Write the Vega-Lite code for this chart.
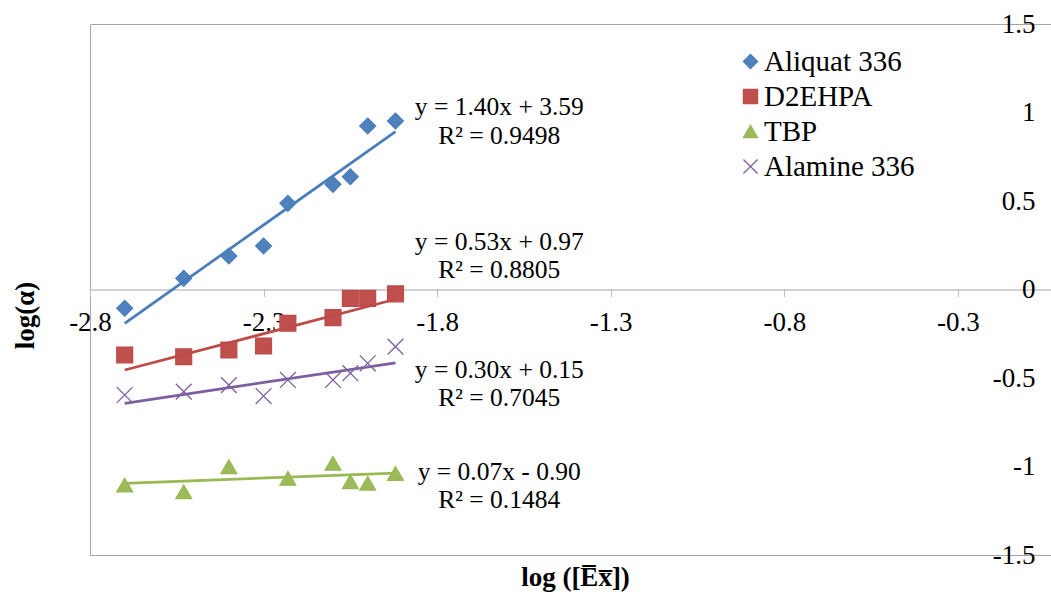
{
  "$schema": "https://vega.github.io/schema/vega-lite/v6.json",
  "width": 972,
  "height": 531,
  "autosize": "none",
  "padding": {"left": 90, "top": 24, "right": -11, "bottom": 39},
  "background": "white",
  "config": {
    "view": {"stroke": "#a6a6a6", "strokeWidth": 1},
    "font": "Liberation Serif",
    "axis": {"labelFont": "Liberation Serif", "titleFont": "Liberation Serif"},
    "text": {"font": "Liberation Serif"},
    "locale": {"number": {"decimal": ".", "thousands": ",", "grouping": [3], "currency": ["$", ""], "minus": "-"}},
    "legend": {
      "orient": "none",
      "legendX": 646,
      "legendY": 23,
      "padding": 0,
      "labelFont": "Liberation Serif",
      "labelFontSize": 29,
      "labelColor": "#000000",
      "labelOffset": -1,
      "rowPadding": 5,
      "symbolSize": 200,
      "symbolStrokeWidth": 1.5,
      "symbolOpacity": 1
    }
  },
  "datasets": {
    "points": [
      {"series": "Aliquat 336", "x": -2.70, "y": -0.106},
      {"series": "Aliquat 336", "x": -2.53, "y": 0.063},
      {"series": "Aliquat 336", "x": -2.40, "y": 0.189},
      {"series": "Aliquat 336", "x": -2.30, "y": 0.246},
      {"series": "Aliquat 336", "x": -2.23, "y": 0.487},
      {"series": "Aliquat 336", "x": -2.10, "y": 0.594},
      {"series": "Aliquat 336", "x": -2.05, "y": 0.637},
      {"series": "Aliquat 336", "x": -2.00, "y": 0.924},
      {"series": "Aliquat 336", "x": -1.92, "y": 0.952},
      {"series": "D2EHPA", "x": -2.70, "y": -0.370},
      {"series": "D2EHPA", "x": -2.53, "y": -0.380},
      {"series": "D2EHPA", "x": -2.40, "y": -0.342},
      {"series": "D2EHPA", "x": -2.30, "y": -0.319},
      {"series": "D2EHPA", "x": -2.23, "y": -0.191},
      {"series": "D2EHPA", "x": -2.10, "y": -0.159},
      {"series": "D2EHPA", "x": -2.05, "y": -0.050},
      {"series": "D2EHPA", "x": -2.00, "y": -0.050},
      {"series": "D2EHPA", "x": -1.92, "y": -0.025},
      {"series": "TBP", "x": -2.70, "y": -1.105},
      {"series": "TBP", "x": -2.53, "y": -1.143},
      {"series": "TBP", "x": -2.40, "y": -1.001},
      {"series": "TBP", "x": -2.23, "y": -1.067},
      {"series": "TBP", "x": -2.10, "y": -0.982},
      {"series": "TBP", "x": -2.05, "y": -1.086},
      {"series": "TBP", "x": -2.00, "y": -1.095},
      {"series": "TBP", "x": -1.92, "y": -1.039},
      {"series": "Alamine 336", "x": -2.70, "y": -0.596},
      {"series": "Alamine 336", "x": -2.53, "y": -0.577},
      {"series": "Alamine 336", "x": -2.40, "y": -0.540},
      {"series": "Alamine 336", "x": -2.30, "y": -0.602},
      {"series": "Alamine 336", "x": -2.23, "y": -0.511},
      {"series": "Alamine 336", "x": -2.10, "y": -0.511},
      {"series": "Alamine 336", "x": -2.05, "y": -0.473},
      {"series": "Alamine 336", "x": -2.00, "y": -0.417},
      {"series": "Alamine 336", "x": -1.92, "y": -0.323}
    ],
    "trends": [
      {"series": "Aliquat 336", "x": -2.70, "y": -0.191},
      {"series": "Aliquat 336", "x": -1.92, "y": 0.892},
      {"series": "D2EHPA", "x": -2.70, "y": -0.455},
      {"series": "D2EHPA", "x": -1.92, "y": -0.055},
      {"series": "TBP", "x": -2.70, "y": -1.095},
      {"series": "TBP", "x": -1.92, "y": -1.038},
      {"series": "Alamine 336", "x": -2.70, "y": -0.643},
      {"series": "Alamine 336", "x": -1.92, "y": -0.414}
    ],
    "notes": [
      {"label": "y = 1.40x + 3.59", "x": -1.621, "y": 1.031},
      {"label": "R² = 0.9498", "x": -1.621, "y": 0.867},
      {"label": "y = 0.53x + 0.97", "x": -1.621, "y": 0.271},
      {"label": "R² = 0.8805", "x": -1.621, "y": 0.110},
      {"label": "y = 0.30x + 0.15", "x": -1.621, "y": -0.455},
      {"label": "R² = 0.7045", "x": -1.621, "y": -0.613},
      {"label": "y = 0.07x - 0.90", "x": -1.621, "y": -1.031},
      {"label": "R² = 0.1484", "x": -1.621, "y": -1.189}
    ]
  },
  "encoding": {
    "x": {"field": "x", "type": "quantitative",
      "scale": {"domain": [-2.8, 0], "nice": false, "zero": false},
      "axis": {
        "values": [-2.8, -2.3, -1.8, -1.3, -0.8, -0.3],
        "offset": -265.5,
        "domainColor": "#a6a6a6",
        "domainWidth": 1,
        "tickColor": "#c0c0c0",
        "tickSize": 7,
        "labelFont": "Liberation Serif",
        "labelFontSize": 27,
        "labelColor": "#000000",
        "labelPadding": 13,
        "labelFlush": false,
        "labelOverlap": false,
        "format": "~g",
        "grid": false,
        "title": "log ([E\u0305x\u0305])",
        "titleFont": "Liberation Serif",
        "titleFontSize": 27,
        "titleFontWeight": "bold",
        "titleColor": "#000000",
        "titleX": 485,
        "titleY": 288,
        "titleAlign": "center",
        "titleBaseline": "middle"
      }
    },
    "y": {"field": "y", "type": "quantitative",
      "scale": {"domain": [-1.5, 1.5], "nice": false, "zero": false},
      "axis": {
        "orient": "right",
        "values": [-1.5, -1, -0.5, 0, 0.5, 1, 1.5],
        "domain": false,
        "ticks": false,
        "grid": false,
        "labelAlign": "right",
        "labelBaseline": "middle",
        "labelPadding": -27,
        "labelFont": "Liberation Serif",
        "labelFontSize": 27,
        "labelColor": "#000000",
        "labelFlush": false,
        "labelOverlap": false,
        "format": "~g",
        "title": "log(α)",
        "titleFont": "Liberation Serif",
        "titleFontSize": 27,
        "titleFontWeight": "bold",
        "titleColor": "#000000",
        "titleAngle": 270,
        "titleX": -1037,
        "titleY": 291,
        "titleAlign": "center",
        "titleBaseline": "middle"
      }
    }
  },
  "layer": [
    {
      "data": {"name": "points"},
      "mark": {"type": "point", "filled": true, "size": 250, "strokeWidth": 1.3, "opacity": 1},
      "encoding": {
        "color": {"field": "series", "type": "nominal",
          "scale": {"domain": ["Aliquat 336", "D2EHPA", "TBP", "Alamine 336"], "range": ["#4f81bd", "#c0504d", "#9bbb59", "#8064a2"]},
          "legend": {"title": null, "encode": {"symbols": {"update": {"stroke": {"scale": "color", "field": "value"}, "strokeWidth": {"value": 1.3}}}}}},
        "shape": {"field": "series", "type": "nominal",
          "scale": {"domain": ["Aliquat 336", "D2EHPA", "TBP", "Alamine 336"], "range": ["diamond", "square", "triangle-up", "M-1,-1L1,1M-1,1L1,-1"]},
          "legend": {"title": null}},
        "stroke": {"field": "series", "type": "nominal", "legend": null,
          "scale": {"domain": ["Aliquat 336", "D2EHPA", "TBP", "Alamine 336"], "range": ["#4a7ebb", "#be4b48", "#98b954", "#7d5fa0"]}}
      }
    },
    {
      "data": {"name": "trends"},
      "mark": {"type": "line", "strokeWidth": 2.75},
      "encoding": {
        "stroke": {"field": "series", "type": "nominal", "legend": null}
      }
    },
    {
      "data": {"name": "notes"},
      "mark": {"type": "text", "font": "Liberation Serif", "fontSize": 25.5, "align": "center", "baseline": "middle", "color": "#000000"},
      "encoding": {
        "text": {"field": "label", "type": "nominal"}
      }
    }
  ]
}
